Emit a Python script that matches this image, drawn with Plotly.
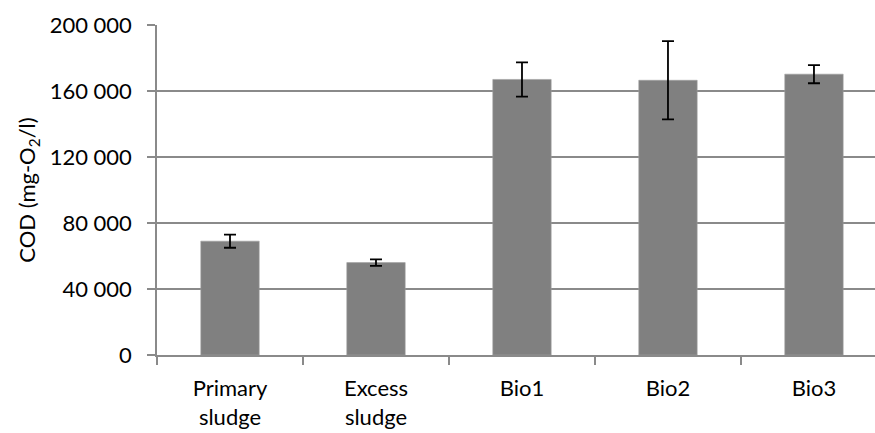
import plotly.graph_objects as go

categories = ["Primary<br>sludge", "Excess<br>sludge", "Bio1", "Bio2", "Bio3"]
cod_values = [69000, 56000, 167000, 166500, 170200]
cod_errors = [4000, 2000, 10400, 23700, 5500]
y_ticks = [0, 40000, 80000, 120000, 160000, 200000]

FONT = "Lato"
GRID = "#8a8a8a"

fig = go.Figure()
fig.add_trace(go.Bar(
    x=list(range(len(categories))),
    y=cod_values,
    marker=dict(color="#808080", line=dict(color="#a0a0a0", width=0.6)),
    error_y=dict(type="data", array=cod_errors, visible=True,
                 color="black", thickness=1.8, width=6),
    width=0.4,
))

fig.update_layout(
    width=875, height=433,
    margin=dict(l=157, r=0, t=25, b=78),
    paper_bgcolor="white", plot_bgcolor="white",
    font=dict(family=FONT, size=22, color="black"),
    separators=". ",
    showlegend=False,
)
fig.update_xaxes(
    range=[-0.5, 4.418],
    tickmode="array", tickvals=list(range(len(categories))), ticktext=categories,
    showgrid=False, showline=True, linecolor=GRID, linewidth=1.5,
    ticks="", ticklabelstandoff=13,
    zeroline=False, automargin=False,
)
fig.update_xaxes(minor=dict(tickmode="array", tickvals=[-0.5, 0.5, 1.5, 2.5, 3.5, 4.5],
                            ticks="outside", ticklen=8, tickcolor=GRID, tickwidth=1.5,
                            showgrid=False))
fig.update_yaxes(
    range=[0, 200000],
    tickmode="array", tickvals=y_ticks, tickformat=",d",
    showgrid=True, gridcolor=GRID, gridwidth=1.5,
    showline=True, linecolor=GRID, linewidth=1.5,
    ticks="outside", ticklen=8, tickcolor=GRID, tickwidth=1.5,
    ticklabelstandoff=11,
    zeroline=False, automargin=False,
    title=dict(text="COD (mg-O<sub>2</sub>/l)", standoff=8, font=dict(size=22)),
)

fig.write_html("out.html", config={"displayModeBar": False},
               post_script="document.body.style.margin='0';")
